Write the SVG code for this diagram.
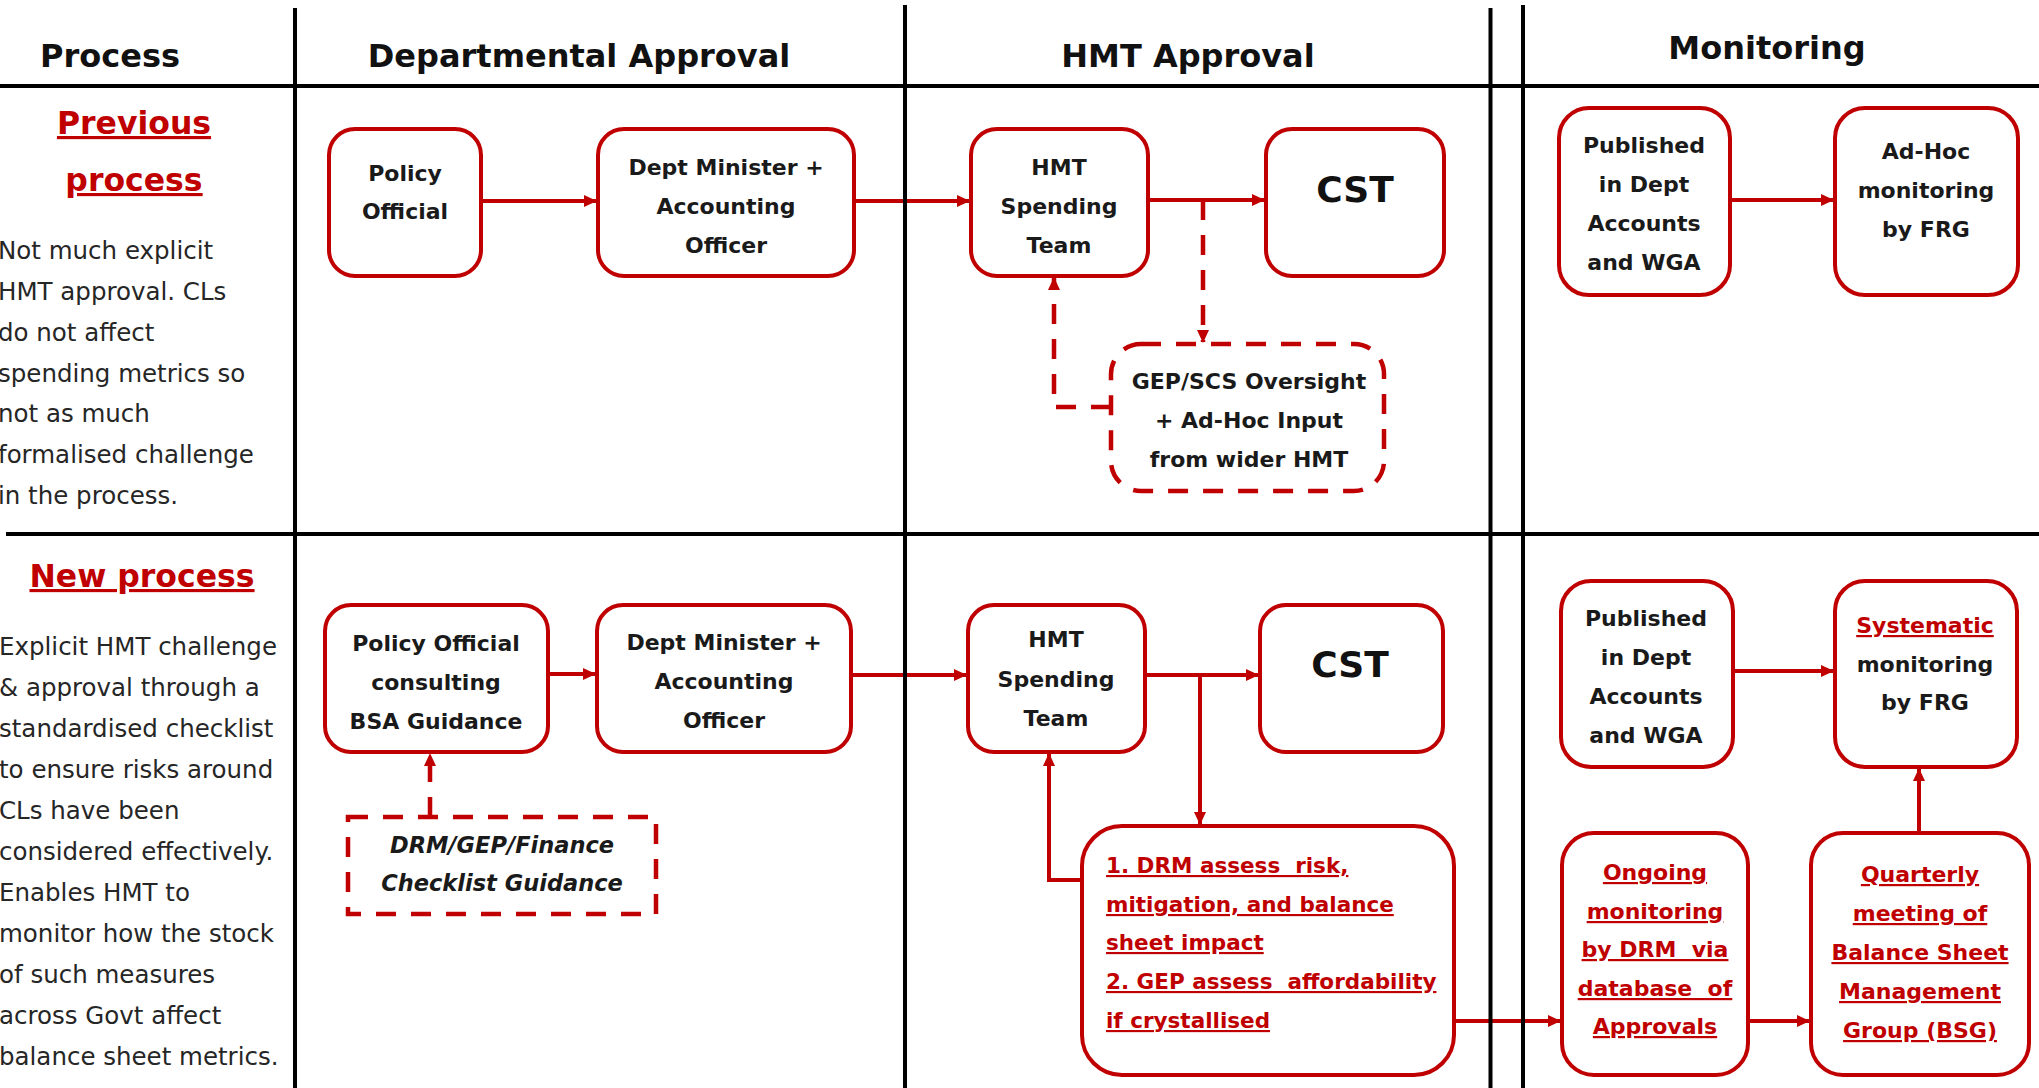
<svg xmlns="http://www.w3.org/2000/svg" width="2039" height="1088" viewBox="0 0 2039 1088">
<style>
.box{fill:#fff;stroke:#C00000;stroke-width:4}
.dbox{fill:#fff;stroke:#C00000;stroke-width:4.5;stroke-dasharray:20 15}
.conn{fill:none;stroke:#C00000;stroke-width:4}
.dconn{fill:none;stroke:#C00000;stroke-width:4.5;stroke-dasharray:20 15}
.grid{stroke:#000;stroke-width:4;fill:none}
text{font-family:'DejaVu Sans','Liberation Sans',sans-serif}
.nt{font-weight:bold;font-size:22px;fill:#1a1a1a;text-anchor:middle}
.rt{font-weight:bold;font-size:22px;fill:#C00000;text-anchor:middle;text-decoration:underline}
.lt{font-weight:bold;font-size:21.5px;fill:#C00000;text-decoration:underline;white-space:pre}
.it{font-weight:bold;font-style:italic;font-size:22.5px;fill:#1a1a1a;text-anchor:middle}
.cst{font-weight:bold;font-size:36px;fill:#111;text-anchor:middle}
.hdr{font-weight:bold;font-size:32px;fill:#111;text-anchor:middle}
.sec{font-weight:bold;font-size:31.5px;fill:#C00000;text-anchor:middle;text-decoration:underline}
.body{font-size:24.5px;fill:#262626}
</style>
<defs>
<marker id="ah" markerUnits="userSpaceOnUse" markerWidth="13" markerHeight="12" refX="12" refY="6" orient="auto">
<path d="M0,0 L13,6 L0,12 z" fill="#C00000"/>
</marker>
</defs>

<g id="headers">
<text class="hdr" x="110" y="67">Process</text>
<text class="hdr" x="579" y="67">Departmental Approval</text>
<text class="hdr" x="1188" y="67">HMT Approval</text>
<text class="hdr" x="1767" y="59">Monitoring</text>
</g>

<g id="previous-label">
<text class="sec" x="134" y="134">Previous</text>
<text class="sec" x="134" y="191">process</text>
<text class="body" x="-2" y="259">Not much explicit</text>
<text class="body" x="-2" y="300">HMT approval. CLs</text>
<text class="body" x="-2" y="341">do not affect</text>
<text class="body" x="-2" y="382">spending metrics so</text>
<text class="body" x="-2" y="422">not as much</text>
<text class="body" x="-2" y="463">formalised challenge</text>
<text class="body" x="-2" y="504">in the process.</text>
</g>

<g id="new-label">
<text class="sec" x="142" y="587">New process</text>
<text class="body" x="-1" y="655">Explicit HMT challenge</text>
<text class="body" x="-1" y="696">&amp; approval through a</text>
<text class="body" x="-1" y="737">standardised checklist</text>
<text class="body" x="-1" y="778">to ensure risks around</text>
<text class="body" x="-1" y="819">CLs have been</text>
<text class="body" x="-1" y="860">considered effectively.</text>
<text class="body" x="-1" y="901">Enables HMT to</text>
<text class="body" x="-1" y="942">monitor how the stock</text>
<text class="body" x="-1" y="983">of such measures</text>
<text class="body" x="-1" y="1024">across Govt affect</text>
<text class="body" x="-1" y="1065">balance sheet metrics.</text>
</g>

<g id="connectors">
<line class="conn" x1="481" y1="201" x2="596" y2="201" marker-end="url(#ah)"/>
<line class="conn" x1="854" y1="201" x2="969" y2="201" marker-end="url(#ah)"/>
<line class="conn" x1="1148" y1="200" x2="1264" y2="200" marker-end="url(#ah)"/>
<path class="dconn" d="M1203,200 V342" marker-end="url(#ah)"/>
<path class="dconn" d="M1111,407 H1054 V278" marker-end="url(#ah)"/>
<line class="conn" x1="1730" y1="200" x2="1833" y2="200" marker-end="url(#ah)"/>

<line class="conn" x1="548" y1="674" x2="595" y2="674" marker-end="url(#ah)"/>
<line class="conn" x1="851" y1="675" x2="966" y2="675" marker-end="url(#ah)"/>
<line class="conn" x1="1145" y1="675" x2="1258" y2="675" marker-end="url(#ah)"/>
<path class="conn" d="M1200,675 V824" marker-end="url(#ah)"/>
<path class="conn" d="M1082,880 H1049 V754" marker-end="url(#ah)"/>
<path class="dconn" d="M430,817 V754" marker-end="url(#ah)"/>
<line class="conn" x1="1454" y1="1021" x2="1560" y2="1021" marker-end="url(#ah)"/>
<line class="conn" x1="1748" y1="1021" x2="1809" y2="1021" marker-end="url(#ah)"/>
<path class="conn" d="M1919,833 V769" marker-end="url(#ah)"/>
<line class="conn" x1="1733" y1="671" x2="1833" y2="671" marker-end="url(#ah)"/>
</g>

<g id="grid">
<line class="grid" x1="0" y1="86" x2="2039" y2="86"/>
<line class="grid" x1="6" y1="534" x2="2039" y2="534"/>
<line class="grid" x1="295" y1="8" x2="295" y2="1088"/>
<line class="grid" x1="905" y1="5" x2="905" y2="1088"/>
<line class="grid" x1="1490.5" y1="8" x2="1490.5" y2="1088"/>
<line class="grid" x1="1523" y1="5" x2="1523" y2="1088"/>
</g>

<g id="prev-policy-official">
<rect class="box" x="329" y="129" width="152" height="147" rx="26"/>
<text class="nt" x="405" y="181">Policy</text>
<text class="nt" x="405" y="219">Official</text>
</g>
<g id="prev-dept-minister">
<rect class="box" x="598" y="129" width="256" height="147" rx="26"/>
<text class="nt" x="726" y="175">Dept Minister +</text>
<text class="nt" x="726" y="214">Accounting</text>
<text class="nt" x="726" y="253">Officer</text>
</g>
<g id="prev-hmt-spending">
<rect class="box" x="971" y="129" width="177" height="147" rx="26"/>
<text class="nt" x="1059" y="175">HMT</text>
<text class="nt" x="1059" y="214">Spending</text>
<text class="nt" x="1059" y="253">Team</text>
</g>
<g id="prev-cst">
<rect class="box" x="1266" y="129" width="178" height="147" rx="26"/>
<text class="cst" x="1355" y="202">CST</text>
</g>
<g id="prev-gep-scs">
<rect class="dbox" x="1111" y="344" width="273" height="147" rx="30"/>
<text class="nt" x="1249" y="389">GEP/SCS Oversight</text>
<text class="nt" x="1249" y="428">+ Ad-Hoc Input</text>
<text class="nt" x="1249" y="467">from wider HMT</text>
</g>
<g id="prev-published">
<rect class="box" x="1559" y="108" width="171" height="187" rx="30"/>
<text class="nt" x="1644" y="153">Published</text>
<text class="nt" x="1644" y="192">in Dept</text>
<text class="nt" x="1644" y="231">Accounts</text>
<text class="nt" x="1644" y="270">and WGA</text>
</g>
<g id="prev-adhoc">
<rect class="box" x="1835" y="108" width="183" height="187" rx="30"/>
<text class="nt" x="1926" y="159">Ad-Hoc</text>
<text class="nt" x="1926" y="198">monitoring</text>
<text class="nt" x="1926" y="237">by FRG</text>
</g>

<g id="new-policy-official">
<rect class="box" x="325" y="605" width="223" height="147" rx="26"/>
<text class="nt" x="436" y="651">Policy Official</text>
<text class="nt" x="436" y="690">consulting</text>
<text class="nt" x="436" y="729">BSA Guidance</text>
</g>
<g id="new-checklist">
<rect class="dbox" x="348" y="817" width="308" height="97"/>
<text class="it" x="502" y="853">DRM/GEP/Finance</text>
<text class="it" x="502" y="891">Checklist Guidance</text>
</g>
<g id="new-dept-minister">
<rect class="box" x="597" y="605" width="254" height="147" rx="26"/>
<text class="nt" x="724" y="650">Dept Minister +</text>
<text class="nt" x="724" y="689">Accounting</text>
<text class="nt" x="724" y="728">Officer</text>
</g>
<g id="new-hmt-spending">
<rect class="box" x="968" y="605" width="177" height="147" rx="26"/>
<text class="nt" x="1056" y="647">HMT</text>
<text class="nt" x="1056" y="687">Spending</text>
<text class="nt" x="1056" y="726">Team</text>
</g>
<g id="new-cst">
<rect class="box" x="1260" y="605" width="183" height="147" rx="26"/>
<text class="cst" x="1350" y="677">CST</text>
</g>
<g id="new-drm-gep">
<rect class="box" x="1082" y="826" width="372" height="249" rx="40"/>
<text class="lt" x="1106" y="873">1. DRM assess  risk,</text>
<text class="lt" x="1106" y="912">mitigation, and balance</text>
<text class="lt" x="1106" y="950">sheet impact</text>
<text class="lt" x="1106" y="989">2. GEP assess  affordability</text>
<text class="lt" x="1106" y="1028">if crystallised</text>
</g>
<g id="new-published">
<rect class="box" x="1561" y="581" width="172" height="186" rx="30"/>
<text class="nt" x="1646" y="626">Published</text>
<text class="nt" x="1646" y="665">in Dept</text>
<text class="nt" x="1646" y="704">Accounts</text>
<text class="nt" x="1646" y="743">and WGA</text>
</g>
<g id="new-systematic">
<rect class="box" x="1835" y="581" width="182" height="186" rx="30"/>
<text class="rt" x="1925" y="633">Systematic</text>
<text class="nt" x="1925" y="672">monitoring</text>
<text class="nt" x="1925" y="710">by FRG</text>
</g>
<g id="new-ongoing">
<rect class="box" x="1562" y="833" width="186" height="242" rx="32"/>
<text class="rt" x="1655" y="880">Ongoing</text>
<text class="rt" x="1655" y="919">monitoring</text>
<text class="rt" x="1655" y="957" style="white-space:pre">by DRM  via</text>
<text class="rt" x="1655" y="996" style="white-space:pre">database  of</text>
<text class="rt" x="1655" y="1034">Approvals</text>
</g>
<g id="new-quarterly">
<rect class="box" x="1811" y="833" width="218" height="242" rx="32"/>
<text class="rt" x="1920" y="882">Quarterly</text>
<text class="rt" x="1920" y="921">meeting of</text>
<text class="rt" x="1920" y="960">Balance Sheet</text>
<text class="rt" x="1920" y="999">Management</text>
<text class="rt" x="1920" y="1038">Group (BSG)</text>
</g>
</svg>
